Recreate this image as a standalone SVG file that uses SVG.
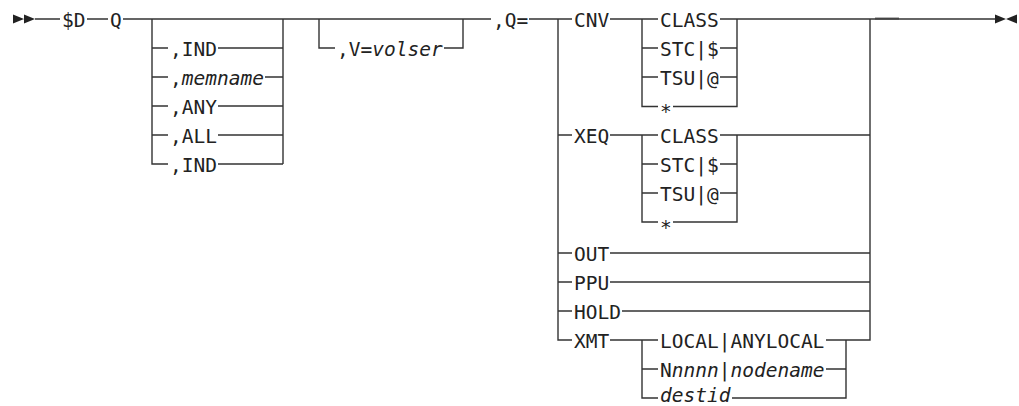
<svg xmlns="http://www.w3.org/2000/svg" width="1019" height="406" viewBox="0 0 1019 406">
<style>
text{font-family:"DejaVu Sans Mono","Liberation Mono",monospace;font-size:19.5px;fill:#222}
.i{font-style:italic}
.c path,.c line{fill:none;stroke:#333;stroke-width:1.4}
.c path.a{fill:#222;stroke:none}
</style>
<rect width="1019" height="406" fill="#fff"/>
<g class="c" id="connectors">
<path class="a" d="M13,14.5 L24,19 L13,23.5 Z M24,14.5 L35,19 L24,23.5 Z"/>
<path d="M35,19 H60 M87,19 H108 M123,19 H491 M529,19 H572"/>
<path d="M152,19 V164 H168 M152,48 H168 M152,77 H168 M152,106 H168 M152,135 H168"/>
<path d="M218,48 H283 M265,77 H283 M218,106 H283 M218,135 H283 M218,164 H283 M283,19 V164"/>
<path d="M319,19 V48 H335 M444,48 H463 V19"/>
<path d="M558,19 V340 H572 M558,135 H572 M558,253 H572 M558,282 H572 M558,311 H572"/>
<path d="M610,19 H658 M720,19 H870 M642,19 V106.5 H658 M642,48 H658 M642,77 H658 M673,106.5 H737 V19 M720,48 H737 M720,77 H737"/>
<path d="M610,135 H658 M720,135 H870 M642,135 V222 H658 M642,164 H658 M642,193 H658 M673,222 H737 V135 M720,164 H737 M720,193 H737"/>
<path d="M610,253 H870 M610,282 H870 M622,311 H870 M870,19 V340 H826"/>
<path d="M610,340 H658 M642,340 V398 H658 M642,369 H658 M732,398 H846 V340 M826,369 H846"/>
<path d="M870,19 H995"/>
<line x1="875" y1="18.6" x2="899" y2="18.6" style="stroke-width:2;stroke:#444"/>
<path class="a" d="M995,14.5 L1006,19 L995,23.5 Z M1017,14.5 L1006,19 L1017,23.5 Z"/>
</g>
<g id="n-dollarD"><text x="62" y="26.5">$D</text></g>
<g id="n-Q"><text x="110" y="26.5">Q</text></g>
<g id="n-ind1"><text x="170" y="55.5">,IND</text></g>
<g id="n-memname"><text x="170" y="84.5">,<tspan class="i">memname</tspan></text></g>
<g id="n-any"><text x="170" y="113.5">,ANY</text></g>
<g id="n-all"><text x="170" y="142.5">,ALL</text></g>
<g id="n-ind2"><text x="170" y="171.5">,IND</text></g>
<g id="n-volser"><text x="337" y="55.5">,V=<tspan class="i">volser</tspan></text></g>
<g id="n-qeq"><text x="493" y="26.5">,Q=</text></g>
<g id="n-cnv"><text x="574" y="26.5">CNV</text></g>
<g id="n-cnv-class"><text x="660" y="26.5">CLASS</text></g>
<g id="n-cnv-stc"><text x="660" y="55.5">STC|$</text></g>
<g id="n-cnv-tsu"><text x="660" y="84.5">TSU|@</text></g>
<g id="n-cnv-star"><text x="660" y="118">*</text></g>
<g id="n-xeq"><text x="574" y="142.5">XEQ</text></g>
<g id="n-xeq-class"><text x="660" y="142.5">CLASS</text></g>
<g id="n-xeq-stc"><text x="660" y="171.5">STC|$</text></g>
<g id="n-xeq-tsu"><text x="660" y="200.5">TSU|@</text></g>
<g id="n-xeq-star"><text x="660" y="233.5">*</text></g>
<g id="n-out"><text x="574" y="260.5">OUT</text></g>
<g id="n-ppu"><text x="574" y="289.5">PPU</text></g>
<g id="n-hold"><text x="574" y="318.5">HOLD</text></g>
<g id="n-xmt"><text x="574" y="347.5">XMT</text></g>
<g id="n-local"><text x="660" y="347.5">LOCAL|ANYLOCAL</text></g>
<g id="n-nnnnn"><text x="660" y="376.5">N<tspan class="i">nnnn</tspan>|<tspan class="i">nodename</tspan></text></g>
<g id="n-destid"><text x="660" y="402" class="i">destid</text></g>
</svg>
